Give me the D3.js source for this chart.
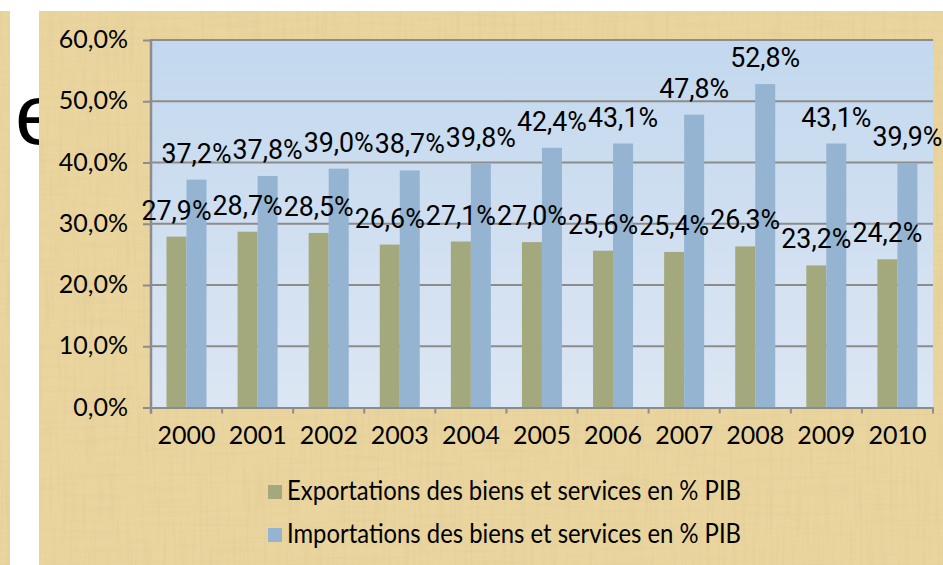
<!DOCTYPE html>
<html>
<head>
<meta charset="utf-8">
<script src="https://cdn.jsdelivr.net/npm/d3@7"></script>
<style>
  body { margin: 0; background: #fff; }
  svg { display: block; }
</style>
</head>
<body>
<div id="chart"></div>
<script>
const years = ["2000", "2001", "2002", "2003", "2004", "2005", "2006", "2007", "2008", "2009", "2010"];
const exportsPct = [27.9, 28.7, 28.5, 26.6, 27.1, 27.0, 25.6, 25.4, 26.3, 23.2, 24.2];
const importsPct = [37.2, 37.8, 39.0, 38.7, 39.8, 42.4, 43.1, 47.8, 52.8, 43.1, 39.9];
const yTicks = [0, 10, 20, 30, 40, 50, 60];
const seriesNames = ["Exportations des biens et services en % PIB", "Importations des biens et services en % PIB"];
const seriesColors = ["#a4a87d", "#94b4d1"];

const W = 943, H = 565;
const plot = {left: 151, right: 933, top: 40, bottom: 407.5};
const fmt = v => v.toFixed(1).replace(".", ",") + "%";

let svg = d3.select("#chart")
    .append("svg")
    .attr("width", W)
    .attr("height", H);

let defs = svg.append("defs");

// papyrus texture
let f = defs.append("filter").attr("id", "pap").attr("x", 0).attr("y", 0).attr("width", 1).attr("height", 1);
f.append("feTurbulence").attr("type", "fractalNoise").attr("baseFrequency", "0.3 0.015")
    .attr("numOctaves", 2).attr("seed", 4).attr("result", "fib");
f.append("feColorMatrix").attr("in", "fib").attr("type", "matrix")
    .attr("values", "0 0 0 0 0.66  0 0 0 0 0.52  0 0 0 0 0.26  1.3 0 0 0 -0.6")
    .attr("result", "fibc");
f.append("feTurbulence").attr("type", "fractalNoise").attr("baseFrequency", "0.015 0.3")
    .attr("numOctaves", 2).attr("seed", 9).attr("result", "fib2");
f.append("feColorMatrix").attr("in", "fib2").attr("type", "matrix")
    .attr("values", "0 0 0 0 0.68  0 0 0 0 0.54  0 0 0 0 0.28  1.2 0 0 0 -0.55")
    .attr("result", "fibc2");
f.append("feMerge").call(m => {
    m.append("feMergeNode").attr("in", "fibc");
    m.append("feMergeNode").attr("in", "fibc2");
});

let g = defs.append("linearGradient").attr("id", "plotbg").attr("x1", 0).attr("y1", 0).attr("x2", 0).attr("y2", 1);
g.append("stop").attr("offset", "0%").attr("stop-color", "#c3d8ee");
g.append("stop").attr("offset", "100%").attr("stop-color", "#dce6f3");

// cut-off letter on the white strip
svg.append("text")
    .attr("x", 15).attr("y", 144)
    .style("font-family", "Liberation Sans")
    .style("font-size", "86px")
    .attr("fill", "#000")
    .text("e");

// papyrus panels
[[0, 11, 10, H - 11], [39, 11, W - 39, H - 11]].forEach(r => {
    svg.append("rect").attr("x", r[0]).attr("y", r[1]).attr("width", r[2]).attr("height", r[3])
        .attr("fill", "#ead59f");
    svg.append("rect").attr("x", r[0]).attr("y", r[1]).attr("width", r[2]).attr("height", r[3])
        .attr("filter", "url(#pap)").attr("opacity", 0.45);
});

// plot area
svg.append("rect")
    .attr("x", plot.left).attr("y", plot.top)
    .attr("width", plot.right - plot.left).attr("height", plot.bottom - plot.top)
    .attr("fill", "url(#plotbg)");

let y = d3.scaleLinear().domain([0, 60]).range([plot.bottom, plot.top]);
let x = d3.scaleBand().domain(years).range([plot.left, plot.right]);
let xs = d3.scaleBand().domain([0, 1]).range([15.5, 55.5]);

// gridlines
svg.append("g")
    .selectAll("line")
    .data(yTicks.filter(t => t > 0))
    .enter()
    .append("line")
    .attr("x1", plot.left).attr("x2", plot.right)
    .attr("y1", d => y(d)).attr("y2", d => y(d))
    .attr("stroke", "#8c8c8c")
    .attr("stroke-width", 2);

// bars
const series = [exportsPct, importsPct];
series.forEach((vals, si) => {
    svg.append("g")
        .selectAll("rect")
        .data(vals)
        .enter()
        .append("rect")
        .attr("x", (d, i) => x(years[i]) + xs(si))
        .attr("y", d => y(d))
        .attr("width", xs.bandwidth())
        .attr("height", d => plot.bottom - y(d))
        .attr("fill", seriesColors[si]);
});

// y axis
let yAxis = svg.append("g")
    .attr("transform", `translate(${plot.left},0)`)
    .call(d3.axisLeft(y).tickValues(yTicks).tickFormat(fmt).tickSize(8).tickPadding(15));
yAxis.select(".domain").remove();
yAxis.append("line").attr("x1", 0).attr("x2", 0).attr("y1", plot.top - 1).attr("y2", plot.bottom + 6)
    .attr("stroke", "#8c8c8c").attr("stroke-width", 2.5);
yAxis.selectAll(".tick line").attr("stroke", "#8c8c8c").attr("stroke-width", 2);
yAxis.selectAll(".tick text")
    .attr("fill", "#000")
    .attr("dy", "0.3em")
    .style("font-family", "Lato")
    .style("font-size", "25px");

// x axis
let xAxis = svg.append("g")
    .attr("transform", `translate(0,${plot.bottom})`)
    .call(d3.axisBottom(x).tickSize(0).tickPadding(19));
xAxis.select(".domain").attr("stroke", "#8c8c8c").attr("stroke-width", 2);
xAxis.selectAll(".tick text")
    .attr("fill", "#000")
    .style("font-family", "Lato")
    .style("font-size", "25px");
xAxis.append("g")
    .selectAll("line")
    .data(years.concat(["end"]))
    .enter()
    .append("line")
    .attr("x1", (d, i) => plot.left + i * x.step())
    .attr("x2", (d, i) => plot.left + i * x.step())
    .attr("y1", 0).attr("y2", 6)
    .attr("stroke", "#8c8c8c").attr("stroke-width", 2);

// data labels
series.forEach((vals, si) => {
    svg.append("g")
        .selectAll("text")
        .data(vals)
        .enter()
        .append("text")
        .attr("x", (d, i) => x(years[i]) + xs(si) + xs.bandwidth() / 2)
        .attr("y", d => y(d) - 17)
        .attr("text-anchor", "middle")
        .attr("textLength", 70)
        .attr("lengthAdjust", "spacingAndGlyphs")
        .style("font-family", "Roboto")
        .style("font-size", "27px")
        .attr("fill", "#000")
        .text(fmt);
});

// legend
let legend = svg.append("g");
seriesNames.forEach((name, i) => {
    legend.append("rect")
        .attr("x", 268).attr("y", 485 + i * 43)
        .attr("width", 14).attr("height", 14)
        .attr("fill", seriesColors[i]);
    legend.append("text")
        .attr("x", 287).attr("y", 500 + i * 43)
        .attr("textLength", 454)
        .attr("lengthAdjust", "spacingAndGlyphs")
        .style("font-family", "Lato")
        .style("font-size", "27px")
        .attr("fill", "#000")
        .text(name);
});
</script>
</body>
</html>
